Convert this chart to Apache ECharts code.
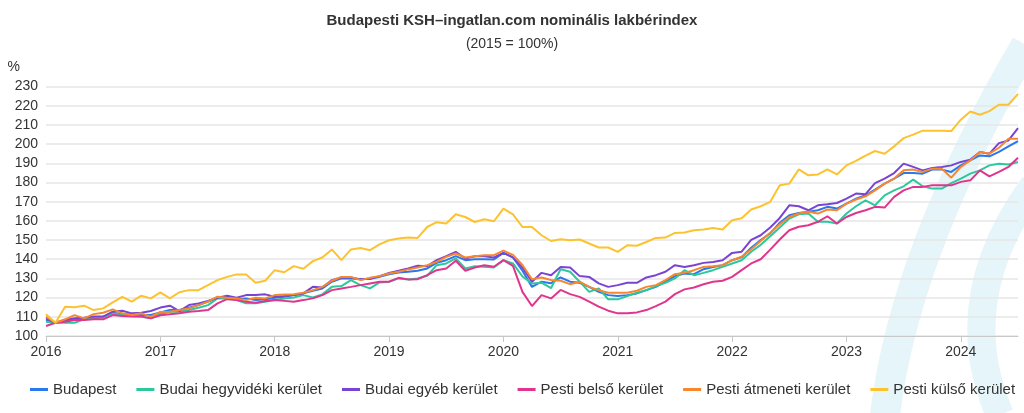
<!DOCTYPE html>
<html>
<head>
<meta charset="utf-8">
<title>Budapesti KSH–ingatlan.com nominális lakbérindex</title>
<script src="https://cdn.jsdelivr.net/npm/echarts@6/dist/echarts.min.js"></script>
<style>
  html, body { margin: 0; padding: 0; background: #fff; }
  #chart { width: 1024px; height: 413px; }
</style>
</head>
<body>
<div id="chart"></div>
<script>
// havi adatok 2016-01 .. 2024-07
var startYear = 2016;
var monthCount = 103;

var seriesNames = ['Budapest', 'Budai hegyvidéki kerület', 'Budai egyéb kerület',
  'Pesti belső kerület', 'Pesti átmeneti kerület', 'Pesti külső kerület'];
var seriesColors = ['#2a78ee', '#2cc89c', '#7a44d2', '#e0358e', '#f7872f', '#fcc230'];

var budapest = [108.3,106.9,108.0,108.7,108.7,109.2,110.1,112.1,111.4,111.3,
  110.9,110.9,112.2,113.5,113.5,114.7,116.1,117.9,119.9,119.9,
  119.2,119.6,118.7,119.1,119.9,120.5,121.3,122.2,123.6,124.8,
  128.3,130.0,130.0,129.7,129.7,130.8,132.2,133.1,133.5,134.0,
  135.2,138.1,139.5,141.6,139.5,140.0,140.0,139.9,143.3,141.0,
  134.0,125.6,128.3,127.5,130.5,128.3,127.7,125.6,123.0,121.3,
  120.8,121.3,122.2,123.9,125.6,128.3,131.2,132.6,132.2,134.8,
  136.0,136.9,139.5,141.0,146.0,150.0,153.5,159.0,162.9,164.1,
  164.7,165.5,167.3,166.4,169.0,171.6,173.3,176.3,179.4,182.0,
  184.9,184.9,184.6,186.7,186.7,185.5,188.9,191.5,194.1,193.6,
  195.9,198.8,201.6];

var budaiHegyvideki = [107.4,106.9,106.9,106.9,108.7,109.2,109.7,111.8,110.9,110.4,
  110.1,109.2,111.5,112.6,112.6,113.5,114.7,116.1,119.6,119.6,
  118.7,117.0,117.0,117.9,118.7,119.5,120.1,121.3,120.1,121.7,
  125.6,126.0,129.1,126.5,124.8,127.9,128.3,130.0,129.5,130.0,
  131.4,136.9,137.8,140.4,135.2,136.4,136.1,135.7,139.5,137.8,
  131.0,127.4,127.8,125.0,134.8,133.5,128.3,123.0,124.8,119.1,
  119.1,120.8,122.5,123.9,126.0,127.7,130.0,134.3,131.7,132.9,
  134.3,136.0,137.8,139.5,143.9,147.5,152.0,156.5,161.2,163.4,
  163.8,159.5,159.5,158.6,163.8,167.6,170.7,168.1,173.3,175.9,
  178.0,181.5,178.0,176.8,176.8,179.7,182.0,184.6,186.3,188.9,
  189.8,189.4,190.7];

var budaiEgyeb = [109.2,106.9,108.3,109.2,109.5,110.1,110.1,112.7,113.2,111.8,
  112.1,113.0,114.8,115.8,113.0,116.1,117.0,118.2,119.9,121.0,
  119.9,121.3,121.3,121.7,120.5,120.8,121.3,122.2,125.6,125.3,
  129.1,130.5,130.5,129.5,130.0,131.2,132.9,134.0,135.2,136.6,
  136.4,139.5,141.6,143.8,140.4,141.6,141.6,140.9,143.3,141.0,
  135.6,128.3,132.9,131.7,136.0,135.7,131.2,130.8,127.4,125.6,
  126.5,127.7,127.7,130.5,131.7,133.5,136.9,136.0,136.9,138.1,
  138.6,139.5,143.3,143.9,150.1,152.5,156.5,161.5,168.1,167.6,
  165.5,168.1,168.6,169.3,171.6,174.2,173.9,179.7,182.0,184.9,
  189.8,188.1,186.3,187.5,188.1,188.9,190.7,191.9,195.9,195.0,
  200.5,201.9,208.3];

var pestiBelso = [105.2,106.9,107.4,108.3,108.3,108.7,108.7,110.9,110.4,110.1,
  110.1,109.2,110.8,111.3,111.8,112.6,113.0,113.5,117.0,119.2,
  118.7,117.9,117.3,118.2,118.7,118.3,117.9,118.7,119.6,121.3,
  123.9,124.8,125.6,126.5,127.4,128.3,128.3,130.3,129.5,129.6,
  131.7,134.3,135.2,139.2,134.0,135.7,136.9,136.1,139.5,136.5,
  123.0,115.6,121.3,119.6,124.0,121.8,120.4,117.9,115.3,113.2,
  111.8,111.8,112.3,113.5,115.6,117.9,121.8,124.3,125.3,127.0,
  128.3,128.8,130.8,134.3,137.8,140.0,145.0,150.3,155.1,156.9,
  157.7,159.5,162.4,158.6,162.0,164.1,165.5,167.3,166.9,172.5,
  175.9,177.7,177.7,178.5,178.5,178.5,180.3,181.1,186.3,183.2,
  185.5,188.1,192.9];

var pestiAtmeneti = [110.1,106.9,108.7,110.9,109.2,111.4,112.1,113.9,111.8,110.9,
  111.8,110.1,112.5,112.6,113.5,114.4,116.1,117.9,120.5,119.9,
  119.6,118.7,119.9,119.6,121.3,121.6,121.8,122.5,123.9,125.6,
  128.8,130.8,130.8,129.1,130.3,131.2,132.6,133.5,134.7,135.7,
  136.9,138.6,141.2,143.0,140.9,141.6,142.1,142.1,144.5,142.3,
  137.0,129.6,130.5,129.2,128.8,127.0,128.3,125.6,123.9,122.5,
  122.5,122.5,123.6,125.6,126.5,129.1,132.2,132.9,134.3,136.0,
  136.4,136.9,139.5,141.3,145.2,149.5,153.8,158.2,162.0,163.8,
  164.7,163.8,165.9,165.5,169.0,171.1,172.8,175.9,179.4,182.0,
  186.3,186.7,185.5,187.2,187.2,182.5,188.1,191.5,195.9,195.0,
  198.1,202.8,202.8];

var pestiKulso = [111.3,106.9,115.2,115.0,115.8,113.5,114.4,117.5,120.4,117.9,
  121.0,119.6,122.7,119.6,122.8,123.9,123.9,126.5,129.1,130.8,
  132.1,132.1,127.7,128.8,134.3,133.2,136.4,135.0,139.0,140.9,
  145.1,139.5,145.1,145.9,144.7,147.7,149.9,150.8,151.3,151.1,
  156.8,159.3,158.6,163.4,162.0,159.4,160.8,159.8,166.4,163.4,
  156.8,156.8,152.5,149.5,150.4,149.9,150.3,148.2,146.1,146.1,
  143.8,147.3,147.0,149.0,151.1,151.3,153.7,153.9,155.1,155.5,
  156.3,155.5,160.3,161.3,165.9,167.6,169.9,178.5,179.4,186.8,
  183.7,184.2,186.8,184.2,188.9,191.2,194.0,196.4,195.0,198.8,
  203.1,204.9,207.0,207.0,207.0,206.8,212.7,217.0,215.3,217.2,
  220.5,220.5,226.2];

var yMin = 100, yMax = 230, yStep = 10;

// hónap címkék
var months = [];
for (var i = 0; i < monthCount; i++) {
  var y = startYear + Math.floor(i / 12);
  var m = (i % 12) + 1;
  months.push(y + '-' + (m < 10 ? '0' + m : m));
}
var allData = [budapest, budaiHegyvideki, budaiEgyeb, pestiBelso, pestiAtmeneti, pestiKulso];

function isJanuary(idx) {
  return idx % 12 === 0;
}

var font = 'Liberation Sans, Arial, Helvetica, sans-serif';
var myChart = echarts.init(document.getElementById('chart'));

var option = {
  backgroundColor: '#fff',
  animation: false,
  textStyle: { fontFamily: font },
  title: {
    text: 'Budapesti KSH–ingatlan.com nominális lakbérindex',
    subtext: '(2015 = 100%)',
    left: 'center',
    top: 8,
    itemGap: 9,
    textStyle: { fontSize: 15, fontWeight: 'bold', color: '#333', fontFamily: font },
    subtextStyle: { fontSize: 14, color: '#333', fontFamily: font }
  },
  // ingatlan.com vízjel
  graphic: [
    {
      type: 'bezierCurve', z: -10, silent: true,
      shape: { x1: 1026, y1: 45, cpx1: 905, cpy1: 250, x2: 885, y2: 415 },
      style: { stroke: 'rgba(205,236,244,0.5)', lineWidth: 30, fill: null }
    },
    {
      type: 'bezierCurve', z: -10, silent: true,
      shape: { x1: 1034, y1: 185, cpx1: 950, cpy1: 300, x2: 1000, y2: 415 },
      style: { stroke: 'rgba(205,236,244,0.5)', lineWidth: 28, fill: null }
    }
  ],
  legend: {
    data: seriesNames,
    left: 25,
    top: 377,
    width: 999,
    itemWidth: 18,
    itemHeight: 3,
    itemGap: 20,
    icon: 'rect',
    textStyle: { fontSize: 15, color: '#333', fontFamily: font }
  },
  grid: {
    left: 46,
    right: 6,
    top: 86.5,
    bottom: 77,
    containLabel: false
  },
  xAxis: {
    type: 'category',
    data: months,
    boundaryGap: false,
    axisLine: { lineStyle: { color: '#c8c8c8', width: 1 } },
    axisTick: {
      interval: function (idx) { return isJanuary(idx); },
      length: 6,
      lineStyle: { color: '#c8c8c8' }
    },
    axisLabel: {
      interval: function (idx) { return isJanuary(idx); },
      formatter: function (val) { return val.slice(0, 4); },
      fontSize: 14,
      color: '#333',
      margin: 9,
      fontFamily: font
    },
    splitLine: { show: false }
  },
  yAxis: {
    type: 'value',
    min: yMin,
    max: yMax,
    interval: yStep,
    name: '%',
    nameLocation: 'end',
    nameGap: 12,
    nameTextStyle: { fontSize: 14, color: '#333', align: 'right', padding: [0, 26, 0, 0], fontFamily: font },
    axisLine: { show: false },
    axisTick: { show: false },
    axisLabel: { fontSize: 14, color: '#333', margin: 8, fontFamily: font },
    splitLine: { lineStyle: { color: '#e6e6e6', width: 1.5 } }
  },
  series: seriesNames.map(function (name, k) {
    return {
      name: name,
      type: 'line',
      data: allData[k],
      showSymbol: false,
      symbol: 'none',
      lineStyle: { width: 2, color: seriesColors[k] },
      itemStyle: { color: seriesColors[k] }
    };
  })
};

myChart.setOption(option);
</script>
</body>
</html>
